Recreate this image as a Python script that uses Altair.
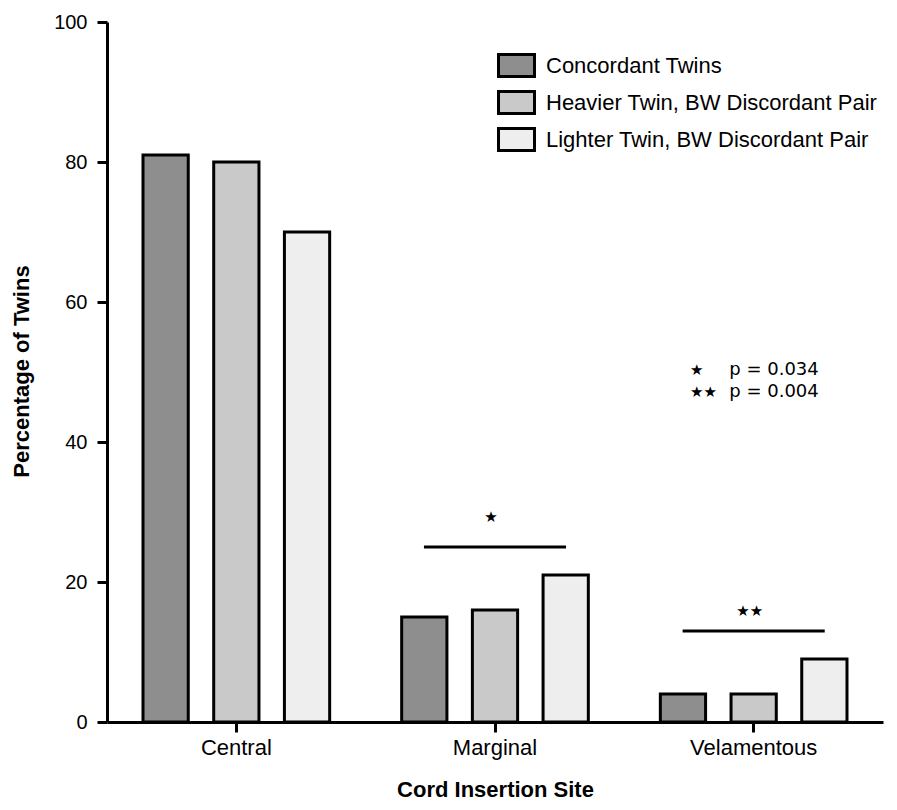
import altair as alt
import pandas as pd

categories = ["Central", "Marginal", "Velamentous"]
groups = ["Concordant Twins", "Heavier Twin, BW Discordant Pair", "Lighter Twin, BW Discordant Pair"]
concordant = [81, 15, 4]
heavier = [80, 16, 4]
lighter = [70, 21, 9]
fills = ["#8e8e8e", "#c9c9c9", "#eeeeee"]

sig_cats = ["Marginal", "Velamentous"]
sig_line_y = [25, 13]
sig_star_y = [29.3, 15.9]
sig_stars = ["★", "★★"]

note_stars = ["★", "★★"]
note_text = ["p = 0.034", "p = 0.004"]
note_y = [50.3, 47.1]

rows = []
for g, vals in zip(groups, [concordant, heavier, lighter]):
    for c, v in zip(categories, vals):
        rows.append({"category": c, "group": g, "value": v})
bars_df = pd.DataFrame(rows)
sig_df = pd.DataFrame({"category": sig_cats, "ly": sig_line_y, "sy": sig_star_y, "stars": sig_stars})
note_df = pd.DataFrame({"category": ["Velamentous"] * 2, "stars": note_stars, "txt": note_text, "y": note_y})

FONT = "Liberation Sans"

xscale = alt.Scale(domain=categories, paddingInner=0.18, paddingOuter=0.09)

bars = alt.Chart(bars_df).mark_bar(stroke="black", strokeWidth=3).encode(
    x=alt.X("category:N", sort=categories, scale=xscale,
            axis=alt.Axis(title="Cord Insertion Site", labelAngle=0, tickSize=10,
                          labelFontSize=22, labelPadding=5, titleFontSize=22,
                          titleFontWeight="bold", titleY=74, titleBaseline="alphabetic")),
    xOffset=alt.XOffset("group:N", sort=groups,
                        scale=alt.Scale(domain=groups, paddingInner=0.36, paddingOuter=0.18)),
    y=alt.Y("value:Q", scale=alt.Scale(domain=[0, 100]),
            axis=alt.Axis(title="Percentage of  Twins", values=[0, 20, 40, 60, 80, 100],
                          tickSize=10, labelFontSize=20, labelPadding=10, titleFontSize=22,
                          titleFontWeight="bold", titleX=-79, titleY=349,
                          titleBaseline="alphabetic")),
    fill=alt.Fill("group:N", sort=groups, scale=alt.Scale(domain=groups, range=fills),
                  legend=alt.Legend(title=None, orient="none", legendX=390, legendY=24,
                                    symbolType="M-1,-0.61H1V0.61H-1Z", symbolSize=1296,
                                    symbolStrokeColor="black", symbolStrokeWidth=3,
                                    labelFontSize=22, labelFont=FONT, labelOffset=10,
                                    labelColor="black", rowPadding=0, labelLimit=400)),
)

lines = alt.Chart(sig_df).mark_rule(color="black", strokeWidth=3).encode(
    x=alt.X("category:N", sort=categories, scale=xscale, bandPosition=0.165),
    x2=alt.X2("category:N", bandPosition=0.835),
    y="ly:Q",
)

stars = alt.Chart(sig_df).mark_text(fontSize=15, font="DejaVu Sans", color="black",
                                    baseline="middle", dx=-4).encode(
    x=alt.X("category:N", sort=categories, scale=xscale, bandPosition=0.5),
    y="sy:Q",
    text="stars:N",
)

note_st = alt.Chart(note_df).mark_text(fontSize=15, font="DejaVu Sans", color="black",
                                       baseline="middle", align="left").encode(
    x=alt.X("category:N", sort=categories, scale=xscale, bandPosition=0.2),
    y="y:Q",
    text="stars:N",
)
note_tx = alt.Chart(note_df).mark_text(fontSize=18, font="DejaVu Sans", color="black",
                                       baseline="middle", align="left").encode(
    x=alt.X("category:N", sort=categories, scale=xscale, bandPosition=0.385),
    y="y:Q",
    text="txt:N",
)

chart = alt.layer(bars, lines, stars, note_st, note_tx).properties(
    width=776, height=700,
    autosize=alt.AutoSizeParams(type="none"),
    padding={"left": 99, "top": 14, "right": 6, "bottom": 80},
).configure_view(stroke=None).configure_axis(
    grid=False, domainColor="black", domainWidth=3, tickColor="black", tickWidth=3,
    labelColor="black", titleColor="black", labelFont=FONT, titleFont=FONT,
).configure_legend(padding=0)

chart.save("out.html", embed_options={"renderer": "svg", "actions": False})
